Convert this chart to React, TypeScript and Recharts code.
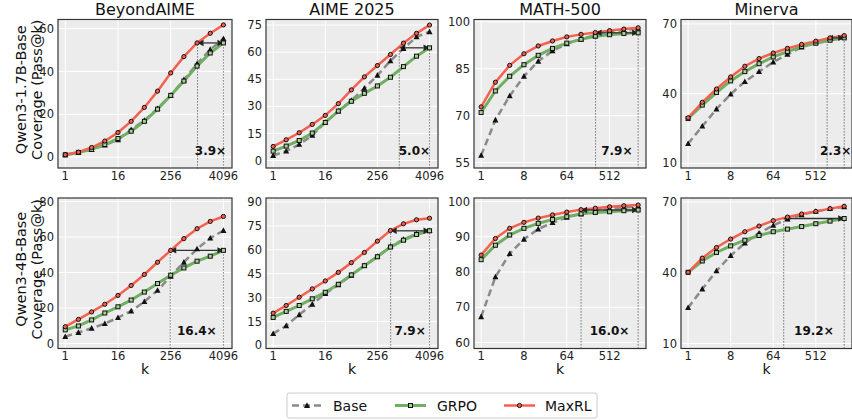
// Pass@k coverage curves: Base vs GRPO vs MaxRL, two model sizes x four benchmarks

import {
  LineChart,
  Line,
  XAxis,
  YAxis,
  CartesianGrid,
  ReferenceLine,
  ReferenceArea,
} from "recharts";

const FONT = "DejaVu Sans, Verdana, sans-serif";

// k values (sampling budgets)
const K_4096 = [1, 2, 4, 8, 16, 32, 64, 128, 256, 512, 1024, 2048, 4096];
const K_2048 = [1, 2, 4, 8, 16, 32, 64, 128, 256, 512, 1024, 2048];

const TICKS_4096 = [1, 16, 256, 4096];
const TICKS_2048 = [1, 8, 64, 512];

const TITLES = ["BeyondAIME", "AIME 2025", "MATH-500", "Minerva"];
const ROW_MODELS = ["Qwen3-1.7B-Base", "Qwen3-4B-Base"];

// ---- Qwen3-1.7B-Base ----
const ba17Base = [1.1, 2.1, 3.5, 5.6, 8.1, 12.8, 17.1, 22.6, 28.8, 36.1, 43.6, 50.2, 55.3];
const ba17Grpo = [1.1, 2.2, 3.6, 5.9, 8.7, 12.1, 16.7, 22.4, 28.8, 35.5, 42.5, 48.6, 53.3];
const ba17Maxrl = [1.1, 2.3, 4.5, 7.5, 11.5, 16.7, 23.2, 30.8, 39.3, 46.9, 53.3, 57.8, 61.7];

const ai17Base = [2.8, 5.2, 8.9, 13.9, 21.1, 27.4, 33.3, 40.0, 47.2, 55.2, 62.0, 68.5, 71.3];
const ai17Grpo = [5.2, 8.0, 11.1, 15.2, 21.1, 27.4, 32.8, 37.2, 41.3, 46.1, 52.0, 57.8, 62.4];
const ai17Maxrl = [7.8, 11.5, 15.4, 20.0, 25.0, 31.5, 39.1, 46.3, 52.6, 58.7, 65.0, 70.4, 75.0];

const m17Base = [57.3, 68.6, 76.3, 82.6, 87.4, 90.7, 93.0, 94.5, 95.8, 96.6, 97.4, 97.9];
const m17Grpo = [71.0, 77.9, 82.6, 86.3, 89.3, 91.5, 93.2, 94.4, 95.4, 95.9, 96.3, 96.5];
const m17Maxrl = [72.8, 80.7, 86.1, 89.8, 92.3, 93.9, 95.2, 96.0, 96.6, 97.2, 97.7, 98.1];

const mi17Base = [18.5, 26.0, 33.4, 39.8, 45.2, 49.5, 53.6, 56.9, 60.0, 62.3, 63.7, 64.5];
const mi17Grpo = [29.3, 35.1, 40.5, 45.5, 49.5, 52.9, 55.8, 58.1, 60.3, 61.7, 63.0, 64.0];
const mi17Maxrl = [29.6, 36.3, 42.0, 47.2, 51.8, 55.1, 57.5, 59.5, 61.2, 62.6, 64.0, 65.0];

// ---- Qwen3-4B-Base ----
const ba4Base = [3.9, 6.2, 8.6, 11.2, 14.6, 18.3, 23.6, 29.9, 37.9, 45.8, 53.3, 59.4, 63.7];
const ba4Grpo = [7.7, 9.9, 13.3, 17.2, 20.7, 24.5, 29.0, 33.8, 38.5, 42.6, 46.4, 49.2, 52.5];
const ba4Maxrl = [9.5, 13.6, 17.8, 22.1, 27.1, 32.7, 38.9, 45.8, 52.5, 59.1, 64.7, 68.8, 71.6];

const ai4Base = [7.3, 12.3, 19.2, 25.8, 32.5, 38.0, 44.0, 50.0, 55.8, 62.1, 66.5, 70.0, 72.0];
const ai4Grpo = [17.5, 21.3, 25.0, 29.2, 33.3, 38.3, 44.2, 50.0, 55.6, 61.7, 66.0, 69.6, 71.9];
const ai4Maxrl = [20.2, 25.0, 30.2, 35.4, 40.4, 45.8, 51.9, 58.3, 65.4, 72.1, 76.3, 78.8, 79.8];

const m4Base = [67.3, 78.6, 85.2, 89.3, 92.2, 94.0, 95.5, 96.5, 97.3, 97.9, 98.3, 98.6];
const m4Grpo = [83.5, 87.6, 90.5, 92.4, 93.8, 94.9, 95.7, 96.5, 96.9, 97.1, 97.4, 97.6];
const m4Maxrl = [84.8, 89.5, 92.4, 94.1, 95.3, 96.2, 97.0, 97.7, 98.1, 98.5, 98.8, 99.0];

const mi4Base = [25.2, 33.1, 40.8, 47.3, 52.6, 56.8, 60.1, 62.8, 64.6, 66.0, 67.2, 67.9];
const mi4Grpo = [40.2, 45.0, 48.6, 51.4, 53.8, 55.8, 57.4, 58.5, 59.6, 60.8, 61.9, 63.0];
const mi4Maxrl = [40.2, 46.2, 50.7, 54.3, 57.4, 59.8, 62.1, 63.6, 64.9, 66.0, 67.2, 68.2];

// sample-efficiency factors written in each panel
const SPEEDUP_17 = ["3.9", "5.0", "7.9", "2.3"];
const SPEEDUP_4 = ["16.4", "7.9", "16.0", "19.2"];

const COLORS = { base: "#8a8a8a", grpo: "#70ae62", maxrl: "#f5604f" };

const YW = 40; // y axis width
const XH = 20; // x axis height
const PAD_T = 8; // room above the plot for the top tick label
const PAD_R = 18; // room on the right for the last x tick label

const COLS = [
  { left: 58, w: 174 },
  { left: 266, w: 172 },
  { left: 474, w: 172 },
  { left: 681, w: 171 },
];
const ROWS = [
  { top: 19.5, h: 148.5 },
  { top: 198, h: 150.5 },
];

const DOM_4096: [number, number] = [Math.pow(2, -0.55), Math.pow(2, 12.65)];
const DOM_2048: [number, number] = [Math.pow(2, -0.5), Math.pow(2, 11.55)];

interface PanelCfg {
  k: number[];
  xTicks: number[];
  xDomain: [number, number];
  base: number[];
  grpo: number[];
  maxrl: number[];
  yDomain: [number, number];
  yTicks: number[];
  speedup: string;
}

const PANELS: PanelCfg[][] = [
  [
    { k: K_4096, xTicks: TICKS_4096, xDomain: DOM_4096, base: ba17Base, grpo: ba17Grpo, maxrl: ba17Maxrl, yDomain: [-5.3, 64], yTicks: [0, 20, 40, 60], speedup: SPEEDUP_17[0] },
    { k: K_4096, xTicks: TICKS_4096, xDomain: DOM_4096, base: ai17Base, grpo: ai17Grpo, maxrl: ai17Maxrl, yDomain: [-4.4, 77.8], yTicks: [0, 15, 30, 45, 60, 75], speedup: SPEEDUP_17[1] },
    { k: K_2048, xTicks: TICKS_2048, xDomain: DOM_2048, base: m17Base, grpo: m17Grpo, maxrl: m17Maxrl, yDomain: [53.1, 100.6], yTicks: [55, 70, 85, 100], speedup: SPEEDUP_17[2] },
    { k: K_2048, xTicks: TICKS_2048, xDomain: DOM_2048, base: mi17Base, grpo: mi17Grpo, maxrl: mi17Maxrl, yDomain: [7.8, 71.7], yTicks: [10, 40, 70], speedup: SPEEDUP_17[3] },
  ],
  [
    { k: K_4096, xTicks: TICKS_4096, xDomain: DOM_4096, base: ba4Base, grpo: ba4Grpo, maxrl: ba4Maxrl, yDomain: [-2.8, 82], yTicks: [0, 20, 40, 60, 80], speedup: SPEEDUP_4[0] },
    { k: K_4096, xTicks: TICKS_4096, xDomain: DOM_4096, base: ai4Base, grpo: ai4Grpo, maxrl: ai4Maxrl, yDomain: [-2, 92.5], yTicks: [0, 15, 30, 45, 60, 75, 90], speedup: SPEEDUP_4[1] },
    { k: K_2048, xTicks: TICKS_2048, xDomain: DOM_2048, base: m4Base, grpo: m4Grpo, maxrl: m4Maxrl, yDomain: [58.3, 101], yTicks: [60, 70, 80, 90, 100], speedup: SPEEDUP_4[2] },
    { k: K_2048, xTicks: TICKS_2048, xDomain: DOM_2048, base: mi4Base, grpo: mi4Grpo, maxrl: mi4Maxrl, yDomain: [7.9, 71.7], yTicks: [10, 40, 70], speedup: SPEEDUP_4[3] },
  ],
];

// markers
const TriDot = (props: any) => {
  const { cx, cy, index } = props;
  if (cx == null || cy == null) return null;
  return (
    <polygon
      key={`tri-${index}`}
      points={`${cx},${cy - 3.2} ${cx - 3},${cy + 2.4} ${cx + 3},${cy + 2.4}`}
      fill="#111"
    />
  );
};

const SquareDot = (props: any) => {
  const { cx, cy, index } = props;
  if (cx == null || cy == null) return null;
  return (
    <rect
      key={`sq-${index}`}
      x={cx - 2}
      y={cy - 2}
      width={4}
      height={4}
      fill="#a9cf9c"
      stroke="#111"
      strokeWidth={1}
    />
  );
};

const CircleDot = (props: any) => {
  const { cx, cy, index } = props;
  if (cx == null || cy == null) return null;
  return (
    <circle key={`ci-${index}`} cx={cx} cy={cy} r={2.1} fill={COLORS.maxrl} stroke="#111" strokeWidth={1} />
  );
};

// double-headed arrow drawn between the two segment ends
const ArrowShape = (props: any) => {
  const { x1, y1, x2 } = props;
  const xa = Math.min(x1, x2);
  const xb = Math.max(x1, x2);
  const y = y1;
  const L = 6;
  const H = 3.2;
  return (
    <g>
      <line x1={xa + L} y1={y} x2={xb - L} y2={y} stroke="#333" strokeWidth={1.3} />
      <polygon points={`${xa},${y} ${xa + L},${y - H} ${xa + L},${y + H}`} fill="#222" />
      <polygon points={`${xb},${y} ${xb - L},${y - H} ${xb - L},${y + H}`} fill="#222" />
    </g>
  );
};

const tickStyle = { fill: "#222", fontSize: 11.5, fontFamily: FONT };

const Panel = ({ p, left, top, w, h }: { p: PanelCfg; left: number; top: number; w: number; h: number }) => {
  const data = p.k.map((k, i) => ({ k, base: p.base[i], grpo: p.grpo[i], maxrl: p.maxrl[i] }));
  const kEnd = p.k[p.k.length - 1];
  const kStart = kEnd / parseFloat(p.speedup);
  const yArrow = p.grpo[p.grpo.length - 1];
  const y0 = p.yDomain[0];

  return (
    <div style={{ position: "absolute", left: left - YW, top: top - PAD_T }}>
      <LineChart
        width={w + YW + PAD_R}
        height={h + XH + PAD_T}
        data={data}
        margin={{ top: PAD_T, right: PAD_R, bottom: 0, left: 0 }}
      >
        <CartesianGrid stroke="#ffffff" strokeWidth={1} fill="#ececec" fillOpacity={1} />
        <XAxis
          dataKey="k"
          type="number"
          scale="log"
          domain={p.xDomain}
          ticks={p.xTicks}
          allowDataOverflow
          interval={0}
          axisLine={false}
          tickLine={false}
          tickSize={1}
          tickMargin={2}
          height={XH}
          tick={tickStyle}
        />
        <YAxis
          type="number"
          domain={p.yDomain}
          ticks={p.yTicks}
          allowDataOverflow
          interval={0}
          axisLine={false}
          tickLine={false}
          tickSize={1}
          tickMargin={3}
          width={YW}
          tick={tickStyle}
        />

        {/* speedup annotation: centered between the two dotted guides */}
        <ReferenceArea
          x1={kStart}
          x2={kEnd}
          y1={y0}
          y2={yArrow}
          fill="none"
          fillOpacity={0}
          stroke="none"
          ifOverflow="visible"
          label={{
            value: `${p.speedup}×`,
            position: "insideBottom",
            offset: 14,
            fontSize: 12,
            fontWeight: 700,
            fill: "#111",
            fontFamily: FONT,
          }}
        />
        <ReferenceLine
          segment={[{ x: kStart, y: y0 }, { x: kStart, y: yArrow }]}
          stroke="#555"
          strokeWidth={1}
          strokeDasharray="1.2 1.8"
          ifOverflow="visible"
        />
        <ReferenceLine
          segment={[{ x: kEnd, y: y0 }, { x: kEnd, y: yArrow }]}
          stroke="#555"
          strokeWidth={1}
          strokeDasharray="1.2 1.8"
          ifOverflow="visible"
        />

        <Line
          dataKey="base"
          stroke={COLORS.base}
          strokeWidth={2.5}
          strokeDasharray="7 4"
          dot={TriDot}
          activeDot={false}
          isAnimationActive={false}
        />
        <Line
          dataKey="grpo"
          stroke={COLORS.grpo}
          strokeWidth={3}
          dot={SquareDot}
          activeDot={false}
          isAnimationActive={false}
        />
        <Line
          dataKey="maxrl"
          stroke={COLORS.maxrl}
          strokeWidth={2.5}
          dot={CircleDot}
          activeDot={false}
          isAnimationActive={false}
        />

        <ReferenceLine
          segment={[{ x: kStart, y: yArrow }, { x: kEnd, y: yArrow }]}
          shape={ArrowShape}
          ifOverflow="visible"
        />
      </LineChart>
    </div>
  );
};

const Overlay = () => (
  <svg
    width={852}
    height={420}
    style={{ position: "absolute", left: 0, top: 0, pointerEvents: "none" }}
    fontFamily={FONT}
  >
    {/* frames */}
    {ROWS.map((r, ri) =>
      COLS.map((c, ci) => (
        <rect key={`f${ri}-${ci}`} x={c.left} y={r.top} width={c.w} height={r.h} fill="none" stroke="#333" strokeWidth={1.2} />
      ))
    )}
    {/* titles */}
    {COLS.map((c, ci) => (
      <text key={`t${ci}`} x={c.left + c.w / 2} y={15} textAnchor="middle" fontSize={16} fill="#111">
        {TITLES[ci]}
      </text>
    ))}
    {/* y labels */}
    {ROWS.map((r, ri) => {
      const cy = r.top + r.h / 2 - 4;
      return (
        <g key={`yl${ri}`}>
          <text transform={`translate(26, ${cy}) rotate(-90)`} textAnchor="middle" fontSize={14.5} fill="#111">
            {ROW_MODELS[ri]}
          </text>
          <text transform={`translate(42, ${cy}) rotate(-90)`} textAnchor="middle" fontSize={14.5} fill="#111">
            Coverage (Pass@k)
          </text>
        </g>
      );
    })}
    {/* k labels */}
    {COLS.map((c, ci) => (
      <text key={`k${ci}`} x={c.left + c.w / 2} y={374} textAnchor="middle" fontSize={14} fill="#111">
        k
      </text>
    ))}
    {/* legend */}
    <rect x={287} y={393} width={310} height={25} rx={2} fill="#fff" stroke="#cccccc" strokeWidth={1} />
    <line x1={292} y1={405.5} x2={322} y2={405.5} stroke={COLORS.base} strokeWidth={2.5} strokeDasharray="7 4" />
    <polygon points="307,402.3 304,407.9 310,407.9" fill="#111" />
    <text x={333} y={410.5} fontSize={14} fill="#111">Base</text>
    <line x1={395} y1={405.5} x2={426} y2={405.5} stroke={COLORS.grpo} strokeWidth={3} />
    <rect x={408.5} y={403.5} width={4} height={4} fill="#a9cf9c" stroke="#111" strokeWidth={1} />
    <text x={437} y={410.5} fontSize={14} fill="#111">GRPO</text>
    <line x1={504} y1={405.5} x2={535} y2={405.5} stroke={COLORS.maxrl} strokeWidth={2.5} />
    <circle cx={519.5} cy={405.5} r={2.1} fill={COLORS.maxrl} stroke="#111" strokeWidth={1} />
    <text x={545} y={410.5} fontSize={14} fill="#111">MaxRL</text>
  </svg>
);

export default function App() {
  return (
    <div
      style={{
        position: "absolute",
        left: 0,
        top: 0,
        width: 852,
        height: 420,
        overflow: "hidden",
        background: "#fff",
        fontFamily: FONT,
      }}
    >
      {PANELS.map((row, ri) =>
        row.map((p, ci) => (
          <Panel key={`${ri}-${ci}`} p={p} left={COLS[ci].left} top={ROWS[ri].top} w={COLS[ci].w} h={ROWS[ri].h} />
        ))
      )}
      <Overlay />
    </div>
  );
}
